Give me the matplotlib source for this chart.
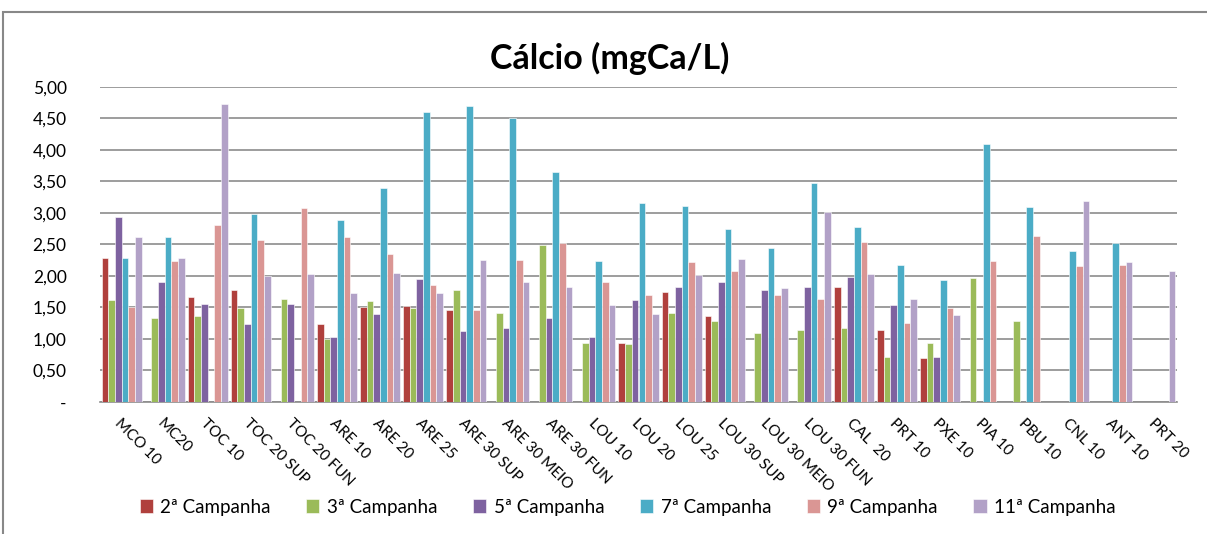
import numpy as np
import matplotlib
matplotlib.use('Agg')
import matplotlib.pyplot as plt
from matplotlib.patches import Rectangle

plt.rcParams['font.family'] = ['Lato', 'DejaVu Sans']

# Categories and series
sites = ['MCO 10', 'MC20', 'TOC 10', 'TOC 20 SUP', 'TOC 20 FUN', 'ARE 10', 'ARE 20',
         'ARE 25', 'ARE 30 SUP', 'ARE 30 MEIO', 'ARE 30 FUN', 'LOU 10', 'LOU 20',
         'LOU 25', 'LOU 30 SUP', 'LOU 30 MEIO', 'LOU 30 FUN', 'CAL  20', 'PRT 10',
         'PXE 10', 'PIA 10', 'PBU 10', 'CNL 10', 'ANT 10', 'PRT 20']
series_names = ['2ª Campanha', '3ª Campanha', '5ª Campanha', '7ª Campanha',
                '9ª Campanha', '11ª Campanha']
nan = np.nan
camp2 = [2.28, nan, 1.66, 1.77, nan, 1.24, 1.51, 1.53, 1.46, nan, nan, nan, 0.94,
         1.75, 1.37, nan, nan, 1.83, 1.14, 0.69, nan, nan, nan, nan, nan]
camp3 = [1.61, 1.33, 1.36, 1.49, 1.64, 1.00, 1.60, 1.49, 1.78, 1.41, 2.49, 0.94, 0.92,
         1.41, 1.28, 1.09, 1.14, 1.17, 0.72, 0.94, 1.97, 1.28, nan, nan, nan]
camp5 = [2.93, 1.91, 1.56, 1.24, 1.56, 1.03, 1.39, 1.95, 1.13, 1.17, 1.33, 1.03, 1.61,
         1.83, 1.91, 1.78, 1.83, 1.99, 1.54, 0.71, nan, nan, nan, nan, nan]
camp7 = [2.28, 2.61, nan, 2.98, nan, 2.88, 3.39, 4.60, 4.70, 4.50, 3.65, 2.24, 3.16,
         3.11, 2.74, 2.45, 3.48, 2.77, 2.17, 1.93, 4.09, 3.09, 2.40, 2.52, nan]
camp9 = [1.51, 2.24, 2.81, 2.57, 3.08, 2.62, 2.35, 1.85, 1.46, 2.25, 2.52, 1.91, 1.70,
         2.22, 2.08, 1.70, 1.63, 2.54, 1.26, 1.49, 2.24, 2.64, 2.15, 2.17, nan]
camp11 = [2.62, 2.28, 4.73, 2.00, 2.03, 1.73, 2.05, 1.73, 2.25, 1.91, 1.83, 1.54, 1.40,
          2.01, 2.27, 1.80, 3.02, 2.03, 1.63, 1.38, nan, nan, 3.18, 2.22, 2.08]
colors = ['#B0403D', '#9BBB59', '#7E62A0', '#4BACC6', '#DA9694', '#B2A1C7']
yticks = [0, 0.5, 1.0, 1.5, 2.0, 2.5, 3.0, 3.5, 4.0, 4.5, 5.0]
ytick_labels = ['-', '0,50', '1,00', '1,50', '2,00', '2,50', '3,00', '3,50', '4,00',
                '4,50', '5,00']

all_series = [camp2, camp3, camp5, camp7, camp9, camp11]

fig = plt.figure(figsize=(12.07, 5.34), dpi=100)
# chart border
fig.patches.append(Rectangle((3 / 1207, -0.1), 1.2, (534 - 12) / 534 + 0.1,
                             transform=fig.transFigure, fill=False,
                             edgecolor='#888888', linewidth=1.5))
ax = fig.add_axes([100 / 1207, 1 - 402 / 534, 1077 / 1207, (402 - 86.7) / 534])

x = np.arange(len(sites))
w = 0.155
for i, (vals, col, name) in enumerate(zip(all_series, colors, series_names)):
    v = np.array(vals, dtype=float)
    ax.bar(x + (i - 2.5) * w, v, width=w, color=col, edgecolor='white',
           linewidth=0.4, label=name, zorder=3)

ax.set_xlim(-0.5, len(sites) - 0.5)
ax.set_ylim(0, 5)
ax.set_yticks(yticks)
ax.set_yticklabels(ytick_labels, fontsize=12.5)
ax.yaxis.grid(True, color='#8C8C8C', linewidth=1.2, zorder=0)
ax.set_axisbelow(True)
for s in ['top', 'right', 'left']:
    ax.spines[s].set_visible(False)
ax.spines['bottom'].set_color('#8C8C8C')
ax.spines['bottom'].set_linewidth(1.2)
ax.tick_params(axis='y', length=0, pad=24)
ax.tick_params(axis='x', length=0, pad=10)
ax.set_xticks(x)
ax.set_xticklabels(sites, rotation=-45, ha='left', va='top', rotation_mode='anchor',
                   fontsize=11)

fig.text(0.505, 1 - 58 / 534, 'Cálcio (mgCa/L)', ha='center', va='center',
         fontsize=24.5, fontweight='bold')

handles, labels = ax.get_legend_handles_labels()
fig.legend(handles, labels, loc='center', bbox_to_anchor=(0.52, 1 - 507 / 534),
           ncol=6, frameon=False, fontsize=13.5, handlelength=0.7, handleheight=0.7,
           columnspacing=1.9, handletextpad=0.4)

fig.savefig('out.png', dpi=100)
